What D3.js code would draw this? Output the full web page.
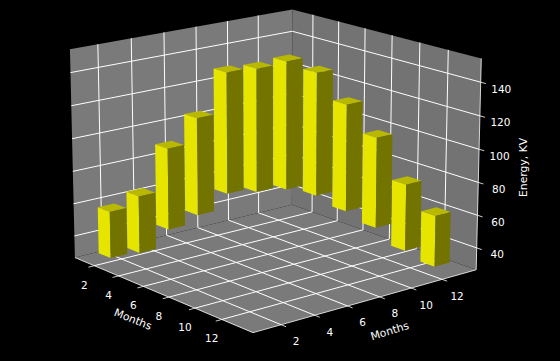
<!DOCTYPE html>
<html>
<head>
<meta charset="utf-8">
<script src="https://cdn.jsdelivr.net/npm/d3@7"></script>
<style>
  html, body { margin: 0; padding: 0; background: #000; }
  text { font-family: "DejaVu Sans", sans-serif; fill: #fff; }
</style>
</head>
<body>
<svg id="chart" width="560" height="361"></svg>
<script>
const barMonths = [1.2, 2.21, 3.23, 4.24, 5.26, 6.27, 7.28, 8.3, 9.31, 10.33, 11.34, 12.35];
const energyLow = [29.7, 33.4, 48.5, 57.8, 71.4, 73, 75, 71.8, 62.9, 53.3, 39.8, 30.5];
const energyHigh = [58.3, 68.3, 97.9, 116.7, 144.4, 147, 151.7, 145.4, 127, 107.7, 80, 61.5];
const monthTicks = [2, 4, 6, 8, 10, 12];
const energyTicks = [40, 60, 80, 100, 120, 140];

const xLim = [0.36, 14.26], yLim = [0.36, 14.26], zLim = [26.5, 154];
const elev = 16, azim = -39.5, dist = 10;
const barSize = 1;

const svg = d3.select("#chart");

// data -> unit box, same box shape as mplot3d
const box = [1.19, 1.19, 0.9];
const sx = d3.scaleLinear().domain(xLim).range([0, box[0]]);
const sy = d3.scaleLinear().domain(yLim).range([0, box[1]]);
const sz = d3.scaleLinear().domain(zLim).range([0, box[2]]);

// screen scales for the perspective-divided coordinates
const screenX = d3.scaleLinear().domain([-1, 1]).range([274 - 2425, 274 + 2425]);
const screenY = d3.scaleLinear().domain([-1, 1]).range([160 + 2425, 160 - 2425]);

const el = elev * Math.PI / 180, az = azim * Math.PI / 180;
const w = [Math.cos(el) * Math.cos(az), Math.cos(el) * Math.sin(az), Math.sin(el)];
const u = [-Math.sin(az), Math.cos(az), 0];
const v = [w[1] * u[2] - w[2] * u[1], w[2] * u[0] - w[0] * u[2], w[0] * u[1] - w[1] * u[0]];

function viewCoords(x, y, z) {
    const p = [sx(x) - box[0] / 2, sy(y) - box[1] / 2, sz(z) - box[2] / 2];
    return [d3.sum(p, (d, i) => d * u[i]), d3.sum(p, (d, i) => d * v[i]), d3.sum(p, (d, i) => d * w[i])];
}

function project(x, y, z) {
    const c = viewCoords(x, y, z);
    const s = dist - c[2];
    return [screenX(c[0] / s), screenY(c[1] / s)];
}

const line = d3.line();

function poly(parent, pts, fill) {
    return parent.append("path")
        .attr("d", line(pts.map(p => project(p[0], p[1], p[2]))) + "Z")
        .attr("fill", fill)
        .attr("stroke", "none");
}

function stroke3d(parent, pts, color, lw) {
    return parent.append("path")
        .attr("d", line(pts.map(p => project(p[0], p[1], p[2]))))
        .attr("fill", "none")
        .attr("stroke", color)
        .attr("stroke-width", lw);
}

const [x0, x1] = xLim, [y0, y1] = yLim, [z0, z1] = zLim;

// panes
const panes = svg.append("g");
poly(panes, [[x0, y0, z0], [x1, y0, z0], [x1, y1, z0], [x0, y1, z0]], "#7a7a7a");
poly(panes, [[x0, y0, z0], [x0, y1, z0], [x0, y1, z1], [x0, y0, z1]], "#7a7a7a");
poly(panes, [[x0, y1, z0], [x1, y1, z0], [x1, y1, z1], [x0, y1, z1]], "#737373");

// grid
const grid = svg.append("g");
monthTicks.forEach(t => {
    stroke3d(grid, [[t, y0, z0], [t, y1, z0], [t, y1, z1]], "#fff", 1);
    stroke3d(grid, [[x1, t, z0], [x0, t, z0], [x0, t, z1]], "#fff", 1);
});
energyTicks.forEach(t => {
    stroke3d(grid, [[x0, y0, t], [x0, y1, t], [x1, y1, t]], "#fff", 1);
});

// axis lines and ticks
const tickLen = 0.35;
const axes = svg.append("g");
stroke3d(axes, [[x0, y0, z0], [x1, y0, z0]], "#fff", 0.8);
stroke3d(axes, [[x1, y0, z0], [x1, y1, z0]], "#fff", 0.8);
stroke3d(axes, [[x1, y1, z0], [x1, y1, z1]], "#fff", 0.8);
monthTicks.forEach(t => {
    stroke3d(axes, [[t, y0, z0], [t, y0 - tickLen, z0]], "#fff", 0.8);
    stroke3d(axes, [[x1, t, z0], [x1 + tickLen, t, z0]], "#fff", 0.8);
});
energyTicks.forEach(t => {
    stroke3d(axes, [[x1, y1, t], [x1 + tickLen, y1, t]], "#fff", 0.8);
});

// tick labels
function label(parent, pos, dx, dy, str, rot, size) {
    const t = parent.append("text")
        .attr("text-anchor", "middle")
        .attr("dominant-baseline", "central")
        .attr("font-size", size)
        .text(str);
    const px = pos[0] + dx, py = pos[1] + dy;
    t.attr("transform", `translate(${px},${py}) rotate(${rot || 0})`);
    return t;
}
const labels = svg.append("g");
monthTicks.forEach(t => {
    label(labels, project(t, y0, z0), -10, 19, t, 0, 10.5);
    label(labels, project(x1, t, z0), 15, 16.5, t, 0, 10.5);
});
energyTicks.forEach(t => {
    label(labels, project(x1, y1, t), 20.5, 6.5, t, 0, 10.5);
});
label(labels, project((x0 + x1) / 2, y0, z0), -27, 26, "Months", 22, 10.8);
label(labels, project(x1, (y0 + y1) / 2, z0), 21, 31, "Months", -17, 10.8);
label(labels, project(x1, y1, (z0 + z1) / 2), 45, 2, "Energy, KV", -90, 10.8);

// bars, far ones first
const barColors = { side: "#e5e500", front: "#737300", top: "#b8b800" };
const bars = barMonths.map((a, i) => {
    const b = a + barSize;
    const lo = energyLow[i], hi = energyHigh[i];
    return { a, b, lo, hi, depth: viewCoords((a + b) / 2, (a + b) / 2, (lo + hi) / 2)[2] };
}).sort((p, q) => d3.ascending(p.depth, q.depth));

const barLayer = svg.append("g");
bars.forEach(d => {
    const g = barLayer.append("g");
    poly(g, [[d.a, d.a, d.hi], [d.b, d.a, d.hi], [d.b, d.b, d.hi], [d.a, d.b, d.hi]], barColors.top);
    poly(g, [[d.a, d.a, d.lo], [d.b, d.a, d.lo], [d.b, d.a, d.hi], [d.a, d.a, d.hi]], barColors.side);
    poly(g, [[d.b, d.a, d.lo], [d.b, d.b, d.lo], [d.b, d.b, d.hi], [d.b, d.a, d.hi]], barColors.front);
});
</script>
</body>
</html>
